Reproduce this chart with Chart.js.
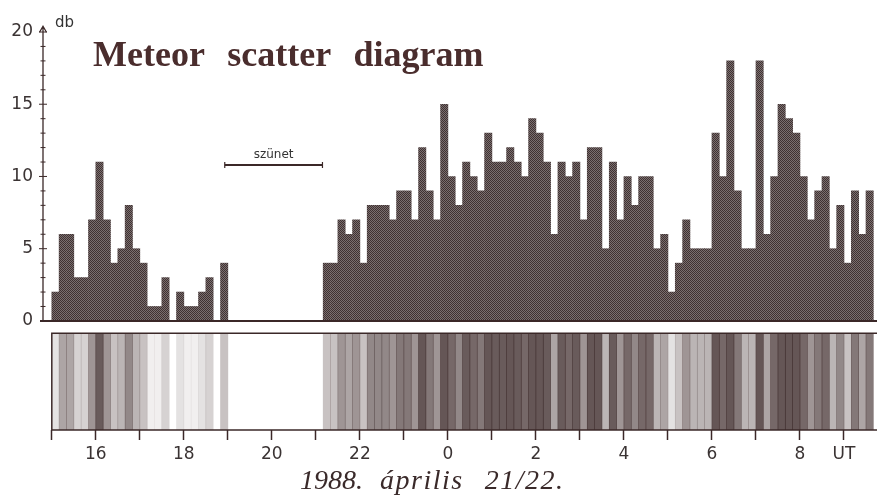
<!DOCTYPE html>
<html>
<head>
<meta charset="utf-8">
<title>Meteor scatter diagram</title>
<script src="https://cdn.jsdelivr.net/npm/chart.js@4.4.1/dist/chart.umd.min.js"></script>
<style>
  body { margin: 0; background: #fff; }
  #wrap { position: relative; width: 877px; height: 502px; }
  #title {
    position: absolute; left: 93px; top: 36px;
    font: bold 36px "Liberation Serif", serif; line-height: 1;
    color: #4a2d2d; word-spacing: 14px; white-space: nowrap;
  }
  #caption {
    position: absolute; left: 300px; top: 466px;
    font: italic 28px "Liberation Serif", serif; line-height: 1;
    color: #3a2a2a; white-space: nowrap;
  }
  #caption .w { letter-spacing: 1.5px; }
  #caption .m1 { margin-left: 10px; }
  #caption .m2 { margin-left: 14px; }
</style>
</head>
<body>
<div id="wrap">
  <canvas id="chart" width="877" height="502"></canvas>
  <div id="title">Meteor scatter diagram</div>
  <div id="caption"><span>1988.</span> <span class="w m1">április</span> <span class="w m2">21/22.</span></div>
</div>
<script>
// 10 minute bins from 15:00 UT (values past 24 run on into the next day)
const binStart = 15
const binsPerHour = 6
const counts = [
  2, 6, 6, 3, 3, 7, 11, 7, 4, 5, 8, 5,       // 15:00 - 16:50
  4, 1, 1, 3, 0, 2, 1, 1, 2, 3, 0, 4,        // 17:00 - 18:50
  0, 0, 0, 0, 0, 0, 0, 0, 0, 0, 0, 0,        // 19:00 - 20:50 (szünet)
  0, 4, 4, 7, 6, 7, 4, 8, 8, 8, 7, 9,        // 21:00 - 22:50
  9, 7, 12, 9, 7, 15, 10, 8, 11, 10, 9, 13,  // 23:00 - 0:50
  11, 11, 12, 11, 10, 14, 13, 11, 6, 11, 10, 11, // 1:00 - 2:50
  7, 12, 12, 5, 11, 7, 10, 8, 10, 10, 5, 6,  // 3:00 - 4:50
  2, 4, 7, 5, 5, 5, 13, 10, 18, 9, 5, 5,     // 5:00 - 6:50
  18, 6, 10, 15, 14, 13, 10, 7, 9, 10, 5, 8, // 7:00 - 8:50
  4, 9, 6, 9                                 // 9:00 - 9:30
]

const hourTicks = [15, 16, 17, 18, 19, 20, 21, 22, 23, 24, 25, 26, 27, 28, 29, 30, 31, 32, 33]
const hourLabels = ["", "16", "", "18", "", "20", "", "22", "", "0", "", "2", "", "4", "", "6", "", "8", "UT"]
const yTicks = [0, 5, 10, 15, 20]

// observing break
const pauseFrom = 18.93
const pauseTo = 21.15

// value range of the lower event strip (below the histogram)
const yMin = -7.55
const stripTop = -0.85

const ink = "#3b2828"

// halftone-like fill for the histogram
function halftone() {
  const c = document.createElement("canvas")
  c.width = 2
  c.height = 2
  const g = c.getContext("2d")
  g.fillStyle = "#7a6f6f"
  g.fillRect(0, 0, 2, 2)
  g.fillStyle = "#3f3131"
  g.fillRect(0, 0, 1, 1)
  g.fillRect(1, 1, 1, 1)
  return g.createPattern(c, "repeat")
}

const binCenter = (i) => binStart + (i + 0.5) / binsPerHour

const histPoints = counts.map((c, i) => ({ x: binCenter(i), y: c }))
const stripPoints = counts.map((c, i) => ({ x: binCenter(i), y: [yMin, stripTop] }))
const stripColors = counts.map((c) => `rgba(50, 30, 30, ${Math.min(0.75, c / 15).toFixed(2)})`)

const decorations = {
  id: "decorations",
  afterDatasetsDraw(chart) {
    const { ctx, chartArea, scales } = chart
    const x = scales.x
    const y = scales.y
    const ax = chartArea.left
    const y0 = y.getPixelForValue(0)
    const tip = y.getPixelForValue(20.4)

    ctx.save()
    ctx.strokeStyle = ink
    ctx.fillStyle = ink

    // histogram baseline
    ctx.lineWidth = 2
    ctx.beginPath()
    ctx.moveTo(ax - 3, y0)
    ctx.lineTo(chartArea.right, y0)
    ctx.stroke()

    // y axis with arrow
    ctx.lineWidth = 1.3
    ctx.beginPath()
    ctx.moveTo(ax, y0)
    ctx.lineTo(ax, tip)
    ctx.moveTo(ax - 3.5, tip + 6)
    ctx.lineTo(ax, tip)
    ctx.lineTo(ax + 3.5, tip + 6)
    ctx.stroke()

    // y tick marks, one per unit
    ctx.lineWidth = 1
    ctx.beginPath()
    for (let v = 1; v <= 20; v++) {
      const py = y.getPixelForValue(v)
      const len = v % 5 === 0 ? 4 : 2.5
      ctx.moveTo(ax - len, py)
      ctx.lineTo(ax + len, py)
    }
    ctx.stroke()

    // frame of the event strip
    const sx = x.getPixelForValue(binStart)
    const sTop = y.getPixelForValue(stripTop)
    const sBottom = y.getPixelForValue(yMin)
    ctx.lineWidth = 1.5
    ctx.beginPath()
    ctx.moveTo(chartArea.right, sTop)
    ctx.lineTo(sx, sTop)
    ctx.lineTo(sx, sBottom)
    ctx.lineTo(chartArea.right, sBottom)
    ctx.stroke()

    // pause bracket
    const py = y.getPixelForValue(10.8)
    const p1 = x.getPixelForValue(pauseFrom)
    const p2 = x.getPixelForValue(pauseTo)
    ctx.lineWidth = 2
    ctx.beginPath()
    ctx.moveTo(p1, py)
    ctx.lineTo(p2, py)
    ctx.stroke()
    ctx.lineWidth = 1.2
    ctx.beginPath()
    ctx.moveTo(p1, py - 3)
    ctx.lineTo(p1, py + 3)
    ctx.moveTo(p2, py - 3)
    ctx.lineTo(p2, py + 3)
    ctx.stroke()

    ctx.fillStyle = "#333"
    ctx.font = '12px "DejaVu Sans", sans-serif'
    ctx.textAlign = "center"
    ctx.textBaseline = "alphabetic"
    ctx.fillText("szünet", (p1 + p2) / 2, py - 7)

    ctx.font = '15px "DejaVu Sans", sans-serif'
    ctx.textAlign = "left"
    ctx.fillText("db", ax + 12, tip + 1)
    ctx.restore()
  },
}

new Chart(document.getElementById("chart"), {
  type: "bar",
  data: {
    datasets: [
      {
        data: histPoints,
        backgroundColor: halftone(),
        borderWidth: 0,
        barPercentage: 1,
        categoryPercentage: 1,
        grouped: false,
      },
      {
        data: stripPoints,
        backgroundColor: stripColors,
        borderWidth: 0,
        barPercentage: 1,
        categoryPercentage: 1,
        grouped: false,
      },
    ],
  },
  options: {
    responsive: false,
    animation: false,
    layout: { padding: { top: 32, left: 0, right: 0, bottom: 0 } },
    plugins: {
      legend: { display: false },
      tooltip: { enabled: false },
    },
    scales: {
      x: {
        type: "linear",
        min: 14.8,
        max: 33.75,
        offset: false,
        afterBuildTicks: (s) => { s.ticks = hourTicks.map((v) => ({ value: v })) },
        afterFit: (s) => { s.height = 72 },
        border: { display: false },
        grid: { offset: false, drawOnChartArea: false, tickLength: 10, tickColor: ink, tickWidth: 1.5 },
        ticks: {
          autoSkip: false,
          maxRotation: 0,
          padding: 4,
          color: "#3a3333",
          font: { family: "DejaVu Sans", size: 17 },
          callback: (v, i) => hourLabels[i],
        },
      },
      y: {
        min: yMin,
        max: 20,
        afterBuildTicks: (s) => { s.ticks = yTicks.map((v) => ({ value: v })) },
        afterFit: (s) => { s.width = 43 },
        border: { display: false },
        grid: { display: false },
        ticks: {
          padding: 2,
          color: "#3a3333",
          font: { family: "DejaVu Sans", size: 17 },
        },
      },
    },
  },
  plugins: [decorations],
})
</script>
</body>
</html>
